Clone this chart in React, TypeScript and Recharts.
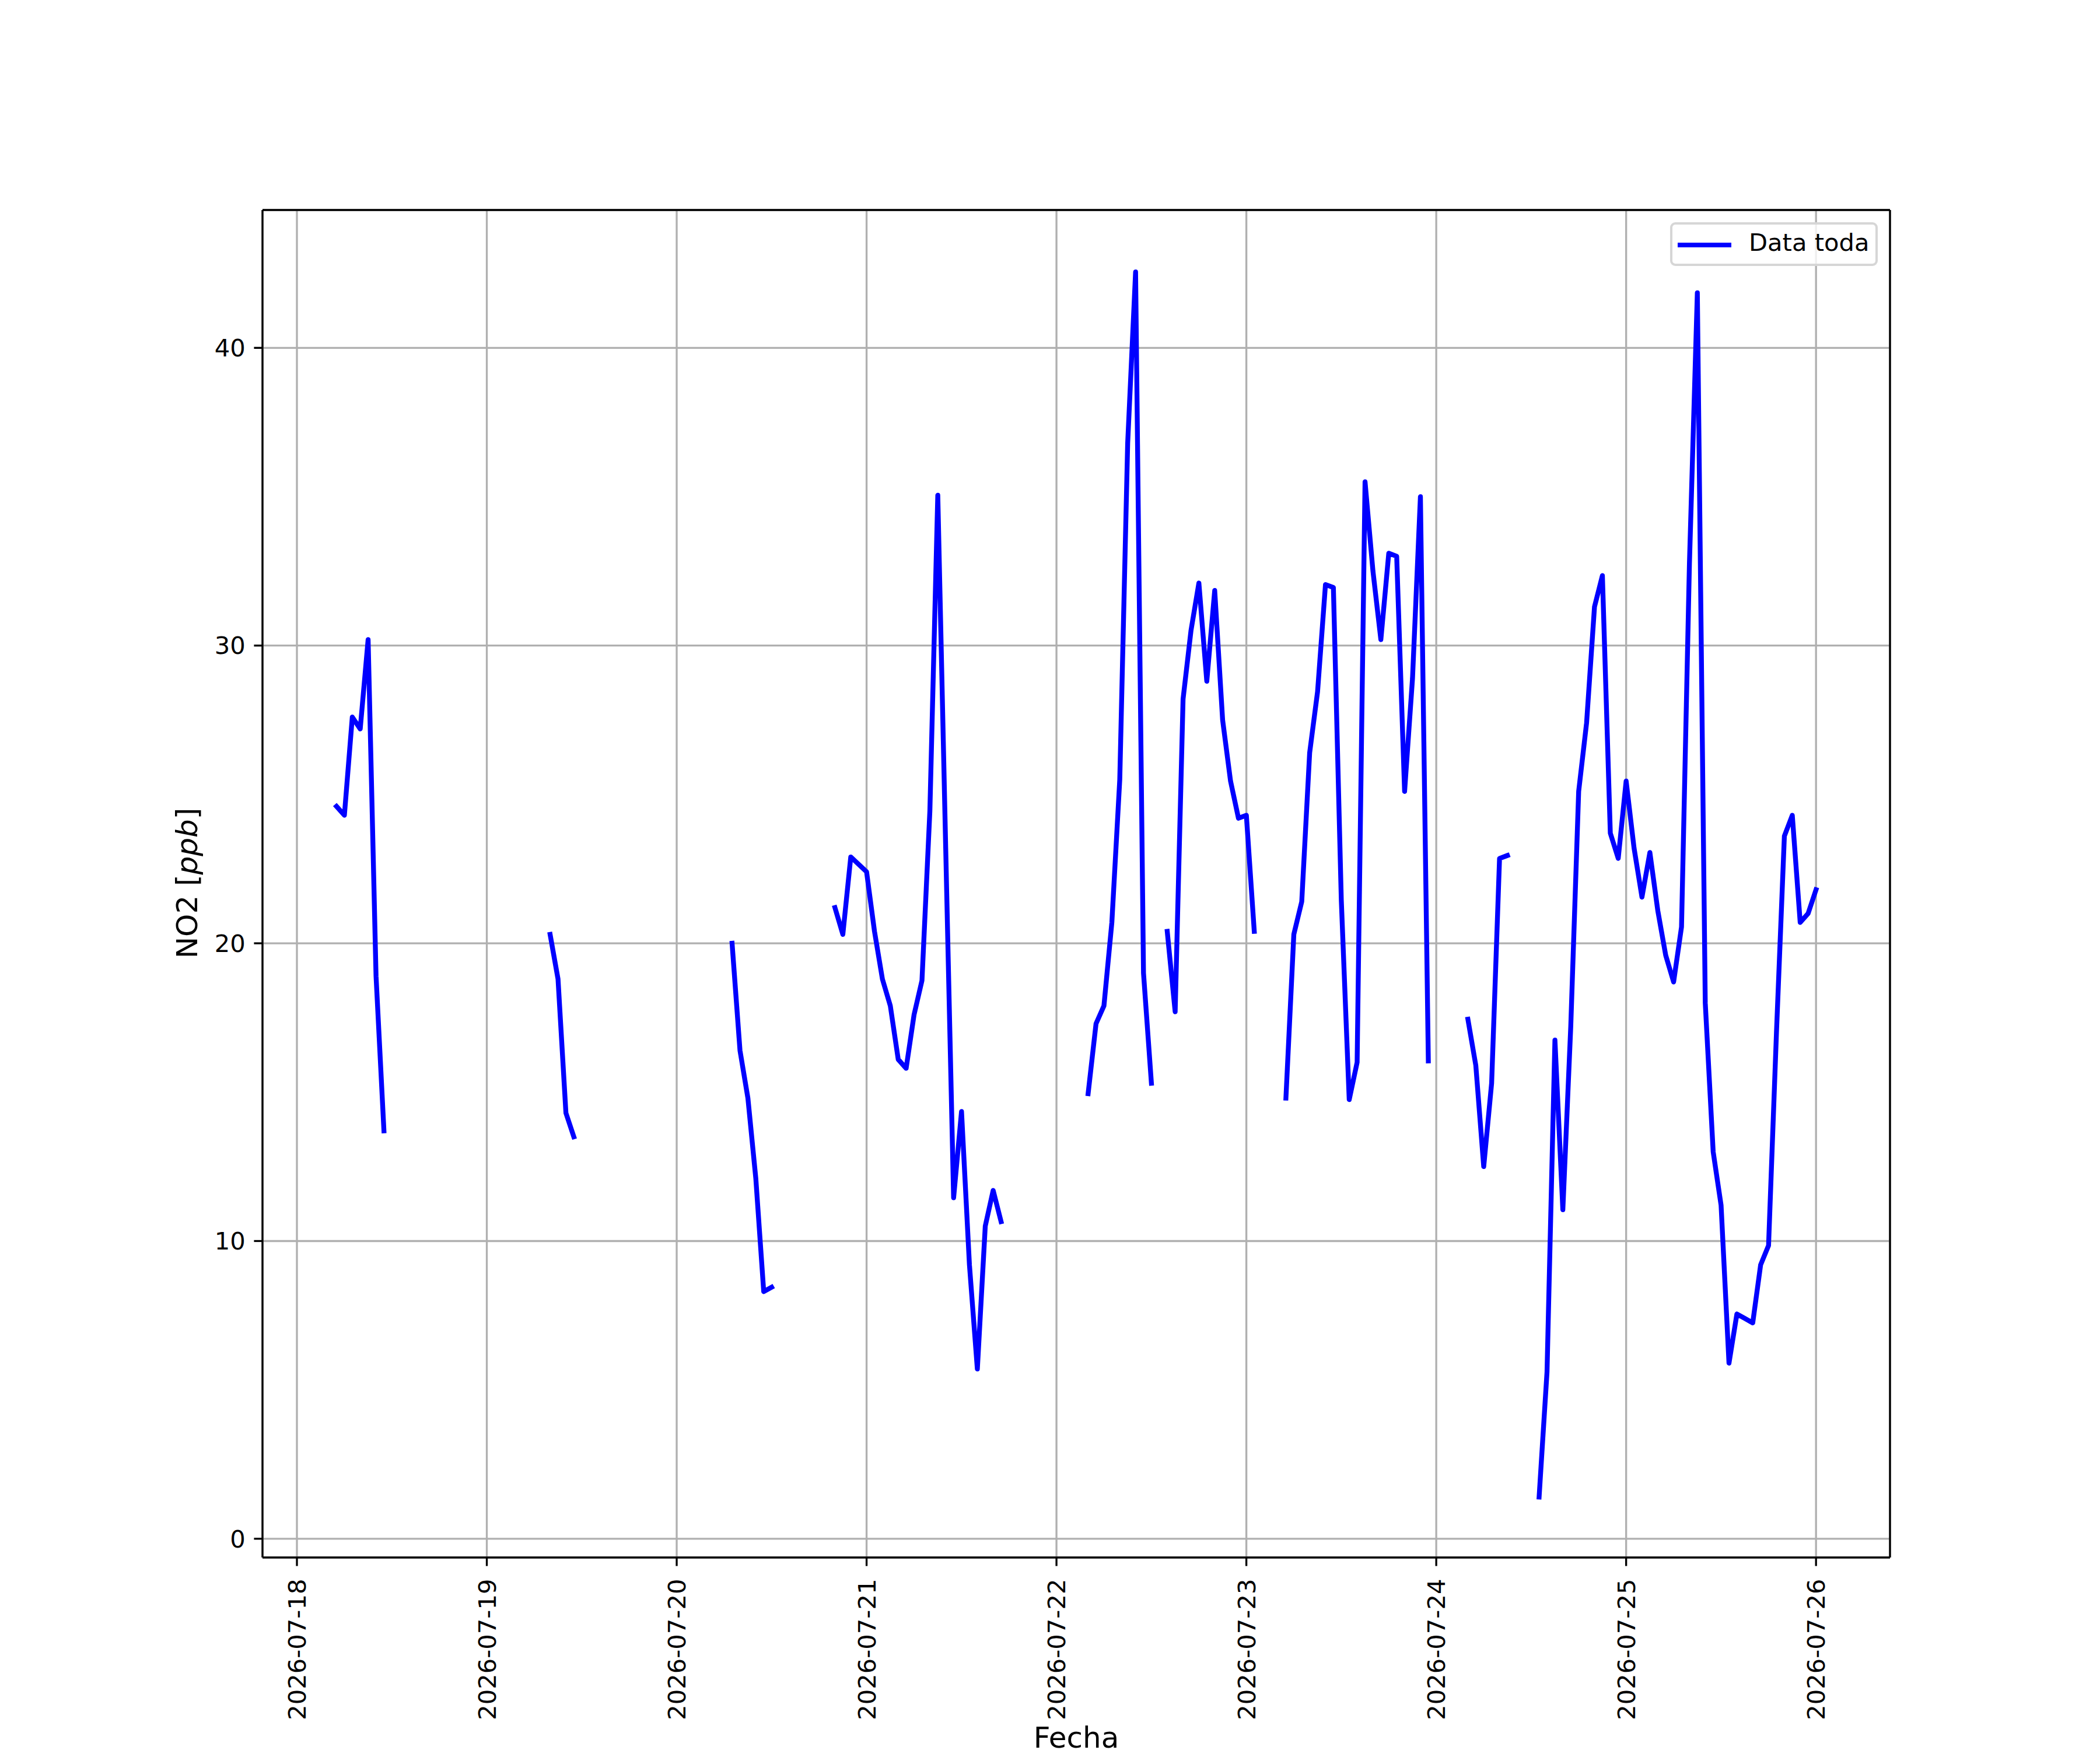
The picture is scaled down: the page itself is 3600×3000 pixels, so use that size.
import React from 'react';
import { LineChart, Line, XAxis, YAxis, CartesianGrid, ReferenceLine } from 'recharts';

// hourly NO2 readings, hours counted from 2026-07-18 00:00
const dateLabels = [
  '2026-07-18', '2026-07-19', '2026-07-20', '2026-07-21', '2026-07-22',
  '2026-07-23', '2026-07-24', '2026-07-25', '2026-07-26',
];
const dateTickHours = [0, 24, 48, 72, 96, 120, 144, 168, 192];
const no2Ticks = [0, 10, 20, 30, 40];

// each run of consecutive hours without gaps
const segmentStarts = [5, 32, 55, 68, 100, 110, 125, 148, 157];
const segmentValues = [
  [24.6, 24.3, 27.6, 27.2, 30.2, 18.9, 13.7],
  [20.3, 18.8, 14.3, 13.5],
  [20.0, 16.4, 14.8, 12.1, 8.3, 8.45],
  [21.2, 20.3, 22.9, 22.65, 22.4, 20.4, 18.8, 17.9, 16.1, 15.8, 17.6, 18.75, 24.45, 35.05, 23.2, 11.45, 14.35, 9.2, 5.7, 10.5, 11.7, 10.65],
  [14.95, 17.3, 17.9, 20.7, 25.5, 36.8, 42.55, 19.0, 15.3],
  [20.4, 17.7, 28.2, 30.5, 32.1, 28.8, 31.85, 27.5, 25.45, 24.2, 24.3, 20.4],
  [14.8, 20.3, 21.4, 26.4, 28.45, 32.05, 31.95, 21.45, 14.75, 16.0, 35.5, 32.5, 30.2, 33.1, 33.0, 25.1, 28.9, 35.0, 16.05],
  [17.45, 15.9, 12.5, 15.3, 22.85, 22.95],
  [1.4, 5.6, 16.75, 11.05, 17.2, 25.1, 27.4, 31.3, 32.35, 23.7, 22.85, 25.45, 23.2, 21.55, 23.05, 21.1, 19.6, 18.7, 20.55, 32.75, 41.85, 18.0, 13.0, 11.2, 5.9, 7.55, 7.4, 7.25, 9.2, 9.85, 17.0, 23.6, 24.3, 20.7, 21.0, 21.8],
];

const firstHour = segmentStarts[0];
const lastHour = segmentStarts[segmentStarts.length - 1] + segmentValues[segmentValues.length - 1].length - 1;

const data: { hour: number; no2: number | null }[] = [];
for (let h = firstHour; h <= lastHour; h++) data.push({ hour: h, no2: null });
segmentStarts.forEach((start, i) => {
  segmentValues[i].forEach((v, j) => {
    data[start + j - firstHour].no2 = v;
  });
});

const FONT = '"DejaVu Sans", sans-serif';
const PT = 300 / 72; // figure is 12x10 in at 300 dpi
const FS = 10 * PT;
const LABEL_FS = 12 * PT;
const X_DOMAIN = [-4.35, 201.35];
const Y_DOMAIN = [-0.63, 44.63];

const DateTick = (props: any) => {
  const { x, y, payload } = props;
  return (
    <text
      x={x}
      y={y}
      transform={`rotate(-90, ${x}, ${y})`}
      textAnchor="end"
      dy="0.36em"
      fontSize={FS}
      fontFamily={FONT}
      fill="#000"
    >
      {dateLabels[Math.round(payload.value / 24)]}
    </text>
  );
};

const YLabel = () => (
  <text
    x={338}
    y={1514}
    transform="rotate(-90, 338, 1514)"
    textAnchor="middle"
    fontSize={LABEL_FS}
    fontFamily={FONT}
    fill="#000"
  >
    NO2 [<tspan fontStyle="italic">ppb</tspan>]
  </text>
);

const XLabel = () => (
  <text x={1845} y={2996} textAnchor="middle" fontSize={LABEL_FS} fontFamily={FONT} fill="#000">
    Fecha
  </text>
);

export default function App() {
  return (
    <div style={{ position: 'absolute', left: 0, top: 0, width: 3600, height: 3000, background: '#fff' }}>
      <LineChart
        width={3600}
        height={3000}
        data={data}
        margin={{ top: 360, right: 360, bottom: 230, left: 350 }}
      >
        <CartesianGrid stroke="#b0b0b0" strokeWidth={0.8 * PT} />
        <XAxis
          dataKey="hour"
          type="number"
          domain={X_DOMAIN}
          ticks={dateTickHours}
          allowDataOverflow
          height={100}
          stroke="#000"
          axisLine={{ stroke: '#000', strokeWidth: 0.8 * PT }}
          tickLine={{ stroke: '#000', strokeWidth: 0.8 * PT }}
          tickSize={3.5 * PT}
          tickMargin={22}
          tick={<DateTick />}
          interval={0}
          label={<XLabel />}
        />
        <YAxis
          type="number"
          domain={Y_DOMAIN}
          ticks={no2Ticks}
          allowDataOverflow
          width={100}
          axisLine={{ stroke: '#000', strokeWidth: 0.8 * PT }}
          tickLine={{ stroke: '#000', strokeWidth: 0.8 * PT }}
          tickSize={3.5 * PT}
          tickMargin={3.5 * PT}
          tick={{ fill: '#000', fontSize: FS, fontFamily: FONT }}
          interval={0}
          label={<YLabel />}
        />
        <ReferenceLine y={Y_DOMAIN[1]} stroke="#000" strokeWidth={0.8 * PT} />
        <ReferenceLine x={X_DOMAIN[1]} stroke="#000" strokeWidth={0.8 * PT} />
        <Line
          type="linear"
          dataKey="no2"
          name="Data toda"
          stroke="#0000ff"
          strokeWidth={2 * PT}
          strokeLinejoin="round"
          strokeLinecap="square"
          dot={false}
          activeDot={false}
          connectNulls={false}
          isAnimationActive={false}
        />
      </LineChart>
      <div
        style={{
          position: 'absolute',
          left: 2863,
          top: 381,
          width: 356,
          height: 75,
          boxSizing: 'border-box',
          border: '4px solid #d6d6d6',
          borderRadius: 9,
          background: 'rgba(255,255,255,0.8)',
        }}
      >
        <div
          style={{
            position: 'absolute',
            left: 9,
            top: 31,
            width: 92,
            height: 8.3,
            background: '#0000ff',
          }}
        />
        <span
          style={{
            position: 'absolute',
            left: 131,
            top: 6,
            fontFamily: FONT,
            fontSize: FS,
            lineHeight: `${FS * 1.2}px`,
            color: '#000',
            whiteSpace: 'nowrap',
          }}
        >
          Data toda
        </span>
      </div>
    </div>
  );
}
